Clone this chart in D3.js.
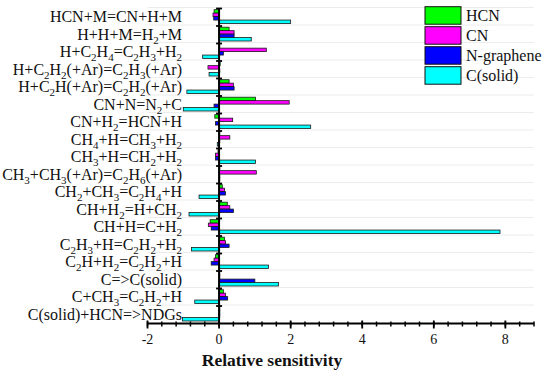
<head>
  <meta charset="UTF-8">
  <script src="https://d3js.org/d3.v7.min.js"></script>
  <style>
    body { margin: 0; background: #fff; }
    #chart text { font-family: "Liberation Serif", "DejaVu Serif", "Noto Serif", "Times New Roman", serif; fill: #111; }
  </style>
</head>
<body>
  <svg id="chart" width="550" height="378"></svg>
<script type="text/javascript">
  // reactions, top to bottom ("_n" = subscript)
  const reactions = [
    'HCN+M=CN+H+M',
    'H+H+M=H_2+M',
    'H+C_2H_4=C_2H_3+H_2',
    'H+C_2H_2(+Ar)=C_2H_3(+Ar)',
    'H+C_2H(+Ar)=C_2H_2(+Ar)',
    'CN+N=N_2+C',
    'CN+H_2=HCN+H',
    'CH_4+H=CH_3+H_2',
    'CH_3+H=CH_2+H_2',
    'CH_3+CH_3(+Ar)=C_2H_6(+Ar)',
    'CH_2+CH_3=C_2H_4+H',
    'CH+H_2=H+CH_2',
    'CH+H=C+H_2',
    'C_2H_3+H=C_2H_2+H_2',
    'C_2H+H_2=C_2H_2+H',
    'C=>C(solid)',
    'C+CH_3=C_2H_2+H',
    'C(solid)+HCN=>NDGs'
  ];

  const seriesNames = ['HCN', 'CN', 'N-graphene', 'C(solid)'];
  const seriesColors = ['#00ff00', '#ff00ff', '#0000ff', '#00ffff'];

  const hcn      = [-0.14, 0.28, 0.02, 0.03, 0.28, 1.02, -0.12, 0.02, -0.03, 0.02, 0.09, 0.23, -0.25, 0.15, -0.10, 0.02, 0.12, 0.02];
  const cn       = [-0.17, 0.42, 1.32, -0.31, 0.40, 1.96, 0.38, 0.30, -0.10, 1.04, 0.15, 0.30, -0.30, 0.18, -0.14, 0.02, 0.18, 0.02];
  const ngraph   = [-0.15, 0.42, 0.12, 0.02, 0.42, -0.14, -0.10, 0.02, -0.10, 0.02, 0.18, 0.40, -0.22, 0.28, -0.22, 1.00, 0.24, 0.02];
  const csolid   = [2.00, 0.90, -0.46, -0.28, -0.90, -1.00, 2.56, -0.05, 1.02, 0.02, -0.56, -0.84, 7.85, -0.77, 1.38, 1.66, -0.68, -1.02];

  const xTicks = [-2, 0, 2, 4, 6, 8];

  const seriesData = [hcn, cn, ngraph, csolid];

  const svg = d3.select('#chart');
  const plot = { left: 147.5, right: 534, top: 8.5, bottom: 323.5 };

  const x = d3.scaleLinear().domain([-2, 8.8]).range([plot.left, plot.right]);
  const y = d3.scaleBand().domain(d3.range(reactions.length)).range([plot.top, plot.bottom]);
  const ySub = d3.scaleBand().domain(d3.range(seriesNames.length)).range([1.2, 15]);

  // faint grid lines at row boundaries
  svg.append('g')
    .selectAll('line')
    .data(d3.range(reactions.length))
    .join('line')
    .attr('x1', plot.left).attr('x2', plot.right)
    .attr('y1', d => y(d) - 1).attr('y2', d => y(d) - 1)
    .attr('stroke', '#ececec')
    .attr('stroke-width', 1);

  // bars
  const rows = reactions.map((r, i) => seriesData.map((s, j) => ({ row: i, s: j, v: s[i] })));
  svg.append('g')
    .attr('class', 'bars')
    .selectAll('rect')
    .data(rows.flat())
    .join('rect')
    .attr('x', d => x(Math.min(0, d.v)))
    .attr('width', d => Math.abs(x(d.v) - x(0)))
    .attr('y', d => y(d.row) + ySub(d.s))
    .attr('height', ySub.bandwidth())
    .attr('fill', d => seriesColors[d.s])
    .attr('stroke', '#1a1a1a')
    .attr('stroke-width', 0.8);

  // reaction labels with subscripts
  const labels = svg.append('g')
    .attr('class', 'labels')
    .selectAll('text')
    .data(reactions)
    .join('text')
    .attr('x', 182)
    .attr('y', (d, i) => y(i) + y.bandwidth() / 2 + 5)
    .attr('text-anchor', 'end')
    .attr('font-size', 16);

  labels.each(function (d) {
    const t = d3.select(this);
    const parts = d.split(/(_\d)/).filter(p => p.length);
    let sub = false;
    parts.forEach(p => {
      if (p[0] === '_') {
        t.append('tspan').attr('dy', 4).attr('font-size', 11).text(p.slice(1));
        sub = true;
      } else {
        t.append('tspan').attr('dy', sub ? -4 : 0).text(p);
        sub = false;
      }
    });
  });

  // zero line with row ticks
  const zeroX = x(0);
  svg.append('line')
    .attr('x1', zeroX).attr('x2', zeroX)
    .attr('y1', plot.top).attr('y2', plot.bottom)
    .attr('stroke', '#000').attr('stroke-width', 2);
  svg.append('g')
    .selectAll('line')
    .data(d3.range(reactions.length))
    .join('line')
    .attr('x1', zeroX - 3).attr('x2', zeroX + 3)
    .attr('y1', d => y(d)).attr('y2', d => y(d))
    .attr('stroke', '#000').attr('stroke-width', 1.8);

  // bottom axis
  const axis = svg.append('g').attr('transform', `translate(0,${plot.bottom})`);
  axis.append('line')
    .attr('x1', plot.left).attr('x2', plot.right)
    .attr('stroke', '#000').attr('stroke-width', 2);
  const minor = d3.range(-2, 8.81, 0.4).map(v => +v.toFixed(1));
  axis.selectAll('line.minor')
    .data(minor)
    .join('line')
    .attr('class', 'minor')
    .attr('x1', d => x(d)).attr('x2', d => x(d))
    .attr('y1', -2).attr('y2', 3)
    .attr('stroke', '#000').attr('stroke-width', 1.5);
  axis.selectAll('line.major')
    .data(xTicks)
    .join('line')
    .attr('class', 'major')
    .attr('x1', d => x(d)).attr('x2', d => x(d))
    .attr('y1', -3).attr('y2', 5)
    .attr('stroke', '#000').attr('stroke-width', 1.8);
  axis.selectAll('text')
    .data(xTicks)
    .join('text')
    .attr('x', d => x(d))
    .attr('y', 20)
    .attr('text-anchor', 'middle')
    .attr('font-size', 14)
    .text(d => d);

  svg.append('text')
    .attr('x', 272)
    .attr('y', 366)
    .attr('text-anchor', 'middle')
    .attr('font-size', 17.5)
    .attr('font-weight', 'bold')
    .text('Relative sensitivity');

  // legend
  const legend = svg.append('g').attr('transform', 'translate(425,6.7)');
  const li = legend.selectAll('g')
    .data(seriesNames)
    .join('g')
    .attr('transform', (d, i) => `translate(0,${i * 20})`);
  li.append('rect')
    .attr('width', 36).attr('height', 17.5)
    .attr('fill', (d, i) => seriesColors[i])
    .attr('stroke', '#111').attr('stroke-width', 1);
  li.append('text')
    .attr('x', 41).attr('y', 14)
    .attr('font-size', 16)
    .text(d => d);
</script>
</body>
